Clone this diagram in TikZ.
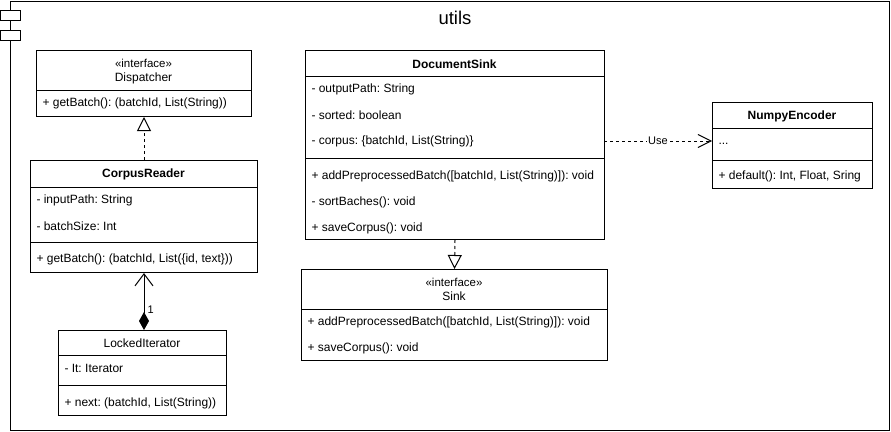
\documentclass[tikz,border=0pt]{standalone}
\usepackage{fontspec}
\setmainfont{Liberation Sans}
\usetikzlibrary{arrows.meta, calc}

\tikzset{
    box/.style={draw, line width=1pt, anchor=north west, inner sep=0pt},
    field/.style={anchor=west, inner sep=0pt, font=\fontsize{12}{14}\selectfont},
    title/.style={inner sep=0pt, font=\fontsize{12}{14}\selectfont},
    boldtitle/.style={title, font=\bfseries\fontsize{12}{14}\selectfont},
    stereo/.style={inner sep=0pt, font=\fontsize{11.5}{13}\selectfont},
    realize/.style={line width=1pt, dash pattern=on 3pt off 3pt, -{Triangle[open, length=14pt, width=14pt]}},
    assoc/.style={line width=1pt, {Diamond[fill=black, length=18pt, width=10pt]}-{Straight Barb[length=12pt, width=18pt]}},
    use/.style={line width=1pt, dash pattern=on 3pt off 3pt, -{Straight Barb[length=13pt, width=13pt]}}
}

\begin{document}
\frenchspacing
\begin{tikzpicture}[x=1pt, y=-1pt, line width=1pt]

    \useasboundingbox (0,0) rectangle (891,431);

    % Draw the component frame
    \node[box, minimum width=879pt, minimum height=429pt] (utils) at (10,0.5) {};
    \draw[fill=white] (0,10) rectangle (20,20);
    \draw[fill=white] (0,30) rectangle (20,40);
    \node[inner sep=0pt, font=\fontsize{18.5}{20}\selectfont] (utilsname) at (455,18) {utils};

    % Dispatcher interface
    \node[box, minimum width=215pt, minimum height=66pt] (disp) at (36,50) {};
    \draw (disp.west |- 0,90) -- (disp.east |- 0,90);
    \node[stereo] (dispst) at (143.5,63) {«interface»};
    \node[title] (dispname) at (143.5,78) {Dispatcher};
    \node[field] (dispm1) at (42,103) {+ getBatch(): (batchId, List(String))};

    % CorpusReader class
    \node[box, minimum width=227pt, minimum height=112pt] (cr) at (30,160) {};
    \draw (cr.west |- 0,187) -- (cr.east |- 0,187);
    \draw (cr.west |- 0,242) -- (cr.east |- 0,242);
    \node[boldtitle] (crname) at (143.5,174) {CorpusReader};
    \node[field] (cra1) at (36,200) {- inputPath: String};
    \node[field] (cra2) at (36,226) {- batchSize: Int};
    \node[field] (crm1) at (36,259) {+ getBatch(): (batchId, List(\{id, text\}))};

    % LockedIterator class
    \node[box, minimum width=168pt, minimum height=85pt] (li) at (58,330) {};
    \draw (li.west |- 0,355) -- (li.east |- 0,355);
    \draw (li.west |- 0,385) -- (li.east |- 0,385);
    \node[title] (liname) at (142,343) {LockedIterator};
    \node[field] (lia1) at (64,368) {- It: Iterator};
    \node[field] (lim1) at (64,403) {+ next: (batchId, List(String))};

    % DocumentSink class
    \node[box, minimum width=299pt, minimum height=189pt] (ds) at (305,50) {};
    \draw (ds.west |- 0,76) -- (ds.east |- 0,76);
    \draw (ds.west |- 0,158) -- (ds.east |- 0,158);
    \node[boldtitle] (dsname) at (454.5,64) {DocumentSink};
    \node[field] (dsa1) at (311,89) {- outputPath: String};
    \node[field] (dsa2) at (311,115) {- sorted: boolean};
    \node[field] (dsa3) at (311,141) {- corpus: \{batchId, List(String)\}};
    \node[field] (dsm1) at (311,176) {+ addPreprocessedBatch([batchId, List(String)]): void};
    \node[field] (dsm2) at (311,202) {- sortBaches(): void};
    \node[field] (dsm3) at (311,228) {+ saveCorpus(): void};

    % Sink interface
    \node[box, minimum width=306pt, minimum height=91pt] (sink) at (301,269) {};
    \draw (sink.west |- 0,309) -- (sink.east |- 0,309);
    \node[stereo] (sinkst) at (454,282) {«interface»};
    \node[title] (sinkname) at (454,296) {Sink};
    \node[field] (sinkm1) at (307,322) {+ addPreprocessedBatch([batchId, List(String)]): void};
    \node[field] (sinkm2) at (307,348) {+ saveCorpus(): void};

    % NumpyEncoder class
    \node[box, minimum width=160pt, minimum height=86pt] (ne) at (712,102) {};
    \draw (ne.west |- 0,128) -- (ne.east |- 0,128);
    \draw (ne.west |- 0,160) -- (ne.east |- 0,160);
    \node[boldtitle] (nename) at (792,116) {NumpyEncoder};
    \node[field] (nea1) at (718,144) {...};
    \node[field] (nem1) at (718,176) {+ default(): Int, Float, Sring};

    % Relations
    \draw[realize] (cr.north) -- (disp.south);
    \draw[realize] (ds.south) -- (sink.north);
    \draw[assoc] (cr.south |- li.north) -- (cr.south)
        node[pos=0.36, anchor=west, inner sep=0pt, xshift=3pt, font=\fontsize{11}{12}\selectfont] {1};
    \coordinate (usestart) at (604,141);
    \draw[use] (usestart) -- (usestart -| ne.west)
        node[midway, fill=white, inner sep=1pt, font=\fontsize{11}{12}\selectfont] {Use};

\end{tikzpicture}
\end{document}
